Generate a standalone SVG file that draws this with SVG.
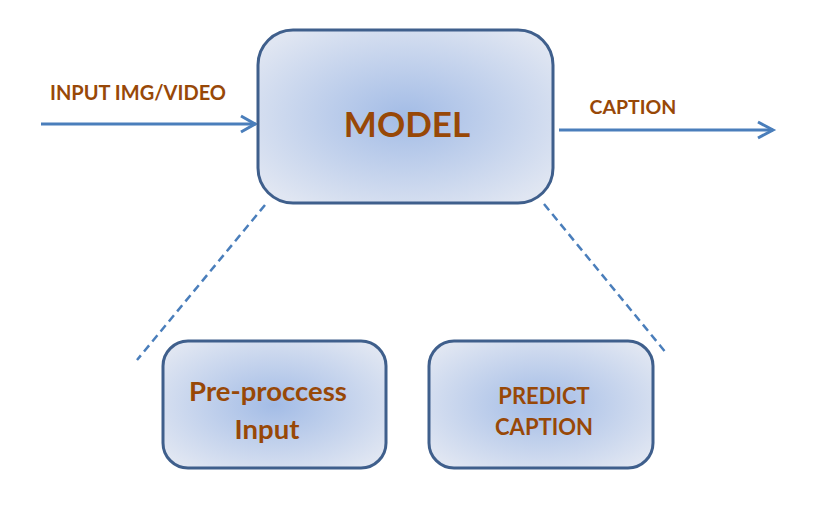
<svg xmlns="http://www.w3.org/2000/svg" width="815" height="510" viewBox="0 0 815 510">
<defs>
<radialGradient id="g" cx="50%" cy="50%" r="62%">
<stop offset="0" stop-color="#A3BCE6"/>
<stop offset="1" stop-color="#E0E6F2"/>
</radialGradient>
<style>
.box{fill:url(#g);stroke:#3F5F8C;stroke-width:3}
.t{font-family:Lato,"Open Sans","Liberation Sans",sans-serif;font-weight:bold;fill:#984807;text-anchor:middle}
.arrow{stroke:#4A7EBB;stroke-width:3;fill:none}
.dash{stroke:#4A7EBB;stroke-width:2.5;stroke-dasharray:8,5;fill:none}
</style>
</defs>
<g id="connectors">
<line class="arrow" x1="41" y1="124" x2="256" y2="124"/>
<path d="M241,116 L255,124 L241,132" class="arrow"/>
<line class="arrow" x1="559" y1="130" x2="773" y2="130"/>
<path d="M758,122 L773,130 L758,138" class="arrow"/>
<line class="dash" x1="265" y1="205" x2="137" y2="360"/>
<line class="dash" x1="544" y1="204" x2="667" y2="354"/>
<text class="t" x="138" y="100" font-size="20">INPUT IMG/VIDEO</text>
<text class="t" x="633" y="114" font-size="19.5">CAPTION</text>
</g>
<g id="model">
<rect class="box" x="258" y="30" width="295" height="173" rx="35"/>
<text class="t" x="407" y="137" font-size="35">MODEL</text>
</g>
<g id="preprocess">
<rect class="box" x="163" y="341" width="223" height="127" rx="25"/>
<text class="t" x="268" y="401" font-size="27.5">Pre-proccess</text>
<text class="t" x="267" y="439" font-size="27.5">Input</text>
</g>
<g id="predict">
<rect class="box" x="429" y="341" width="224" height="127" rx="25"/>
<text class="t" x="544" y="404" font-size="22">PREDICT</text>
<text class="t" x="544" y="435" font-size="22">CAPTION</text>
</g>
</svg>
